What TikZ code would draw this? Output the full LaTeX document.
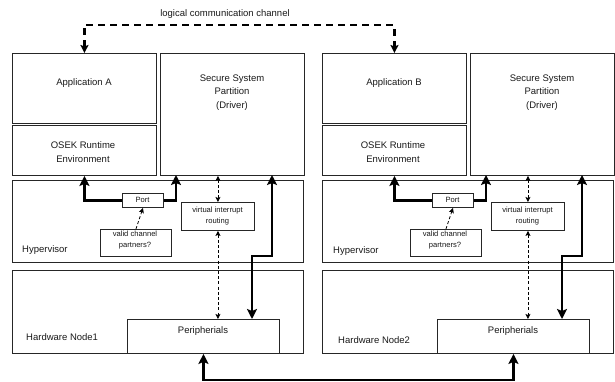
\documentclass[tikz,border=0pt]{standalone}
\usepackage{fontspec}
\setmainfont{Liberation Sans}
\usetikzlibrary{arrows.meta,calc}
\begin{document}
\begin{tikzpicture}[x=1pt,y=-1pt,
  box/.style={draw=black!85, line width=0.9pt, inner sep=0pt, anchor=north west},
  big/.style={font=\fontsize{9.5}{13.5}\selectfont, align=center, inner sep=0pt, text=black!90},
  small/.style={font=\fontsize{7.6}{11.7}\selectfont, align=center, inner sep=0pt, text=black!90},
  thickarr/.style={line width=2.8pt, -{Stealth[length=10pt,width=10pt,inset=2pt]}},
  thickboth/.style={line width=2.8pt, {Stealth[length=10pt,width=10pt,inset=2pt]}-{Stealth[length=10pt,width=10pt,inset=2pt]}},
  dashboth/.style={line width=0.8pt, dash pattern=on 3pt off 2.2pt, {Stealth[length=5pt,width=5pt,inset=1pt]}-{Stealth[length=5pt,width=5pt,inset=1pt]}},
  dashone/.style={line width=0.8pt, dash pattern=on 3pt off 2.2pt, -{Stealth[length=5pt,width=5pt,inset=1pt]}},
  logic/.style={line width=2.6pt, dash pattern=on 7pt off 5pt, {Stealth[length=8pt,width=8pt,inset=1.5pt]}-{Stealth[length=8pt,width=8pt,inset=1.5pt]}}
]
\useasboundingbox (0,0) rectangle (615,381);

\foreach \s/\n/\h/\hx/\hy/\vx/\vy in {0/A/1/26/337/22/250, 310/B/2/28/340/23/251}{
  % boxes
  \node[box, minimum width=144pt, minimum height=70pt]  (app\n)  at (\s+12,53) {};
  \node[box, minimum width=144pt, minimum height=50pt]  (osek\n) at (\s+12,125) {};
  \node[box, minimum width=144pt, minimum height=122pt] (ssp\n)  at (\s+160,53) {};
  \node[box, minimum width=291pt, minimum height=82pt]  (hyp\n)  at (\s+12,180) {};
  \node[box, minimum width=291pt, minimum height=83pt]  (hw\n)   at (\s+12,270) {};
  \node[box, fill=white, minimum width=152pt, minimum height=34pt] (per\n) at (\s+127,319) {};
  \node[box, fill=white, minimum width=41pt, minimum height=14pt]  (port\n) at (\s+122,193) {};
  \node[box, fill=white, minimum width=73pt, minimum height=28pt]  (vir\n)  at (\s+181,202) {};
  \node[box, fill=white, minimum width=71pt, minimum height=27pt]  (valid\n) at (\s+100,229) {};
  % texts
  \node[big] (tapp\n) at (\s+84,83) {Application \n};
  \node[big] (tosek\n) at (\s+83,152) {OSEK Runtime\\Environment};
  \node[big] (tssp\n) at (\s+232,92.5) {Secure System\\Partition\\(Driver)};
  \node[big, anchor=west] (thyp\n) at (\s+\vx,\vy) {Hypervisor};
  \node[big, anchor=west] (thw\n) at (\s+\hx,\hy) {Hardware Node\h};
  \node[big] (tper\n) at (\s+203,331) {Peripherials};
  \node[small] (tport\n) at (\s+142.5,199.5) {Port};
  \node[small] (tvir\n) at (\s+217.5,216) {virtual interrupt\\routing};
  \node[small] (tvalid\n) at (\s+135,240) {valid channel\\partners?};
  % connectors
  \coordinate (pr\n) at (\s+176,175);
  \coordinate (d1\n) at (\s+272,175);
  \coordinate (d2\n) at (\s+252,319);
  \draw[thickarr] (port\n.west) -| (osek\n.south);
  \draw[thickarr] (port\n.east) -| (pr\n);
  \draw[thickboth] (d1\n) -- ++(0,81) -| (d2\n);
  \draw[dashboth] (vir\n.north) -- (vir\n.north |- ssp\n.south);
  \draw[dashboth] (vir\n.south) -- (vir\n.south |- per\n.north);
  \draw[dashone] (valid\n.north) -- (port\n.south);
}

\draw[logic] (appA.north) -- ++(0,-28) -| (appB.north);
\node[big] (tlog) at (225,14) {logical communication channel};
\draw[thickboth] (perA.south) -- ++(0,26) -| (perB.south);
\end{tikzpicture}
\end{document}
